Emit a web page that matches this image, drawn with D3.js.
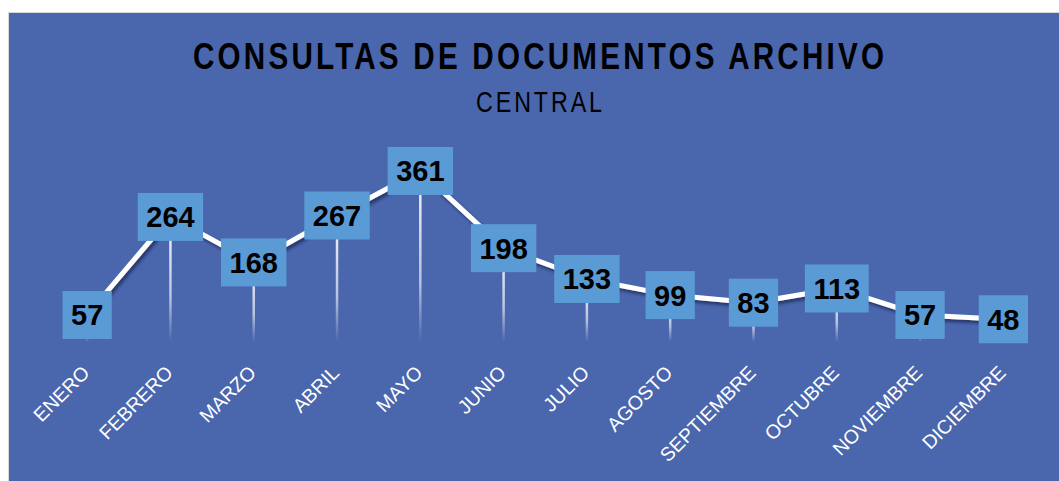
<!DOCTYPE html>
<html>
<head>
<meta charset="utf-8">
<script src="https://cdn.jsdelivr.net/npm/d3@7"></script>
<style>
	body { margin: 0; background: #fff; }
	svg { display: block; }
</style>
</head>
<body>
<div id="chart"></div>
<script>
const months = ["ENERO", "FEBRERO", "MARZO", "ABRIL", "MAYO", "JUNIO",
	"JULIO", "AGOSTO", "SEPTIEMBRE", "OCTUBRE", "NOVIEMBRE", "DICIEMBRE"];
const consultas = [57, 264, 168, 267, 361, 198, 133, 99, 83, 113, 57, 48];
const yDomain = [0, 400];
const title = "CONSULTAS DE DOCUMENTOS ARCHIVO";
const subtitle = "CENTRAL";

const width = 1059,
		height = 481,
		plot = { left: 45.5, right: 1045, top: 152.5, bottom: 342 },
		narrow = 0.8;

const svg = d3.select("#chart")
	.append("svg")
		.attr("width", width)
		.attr("height", height);

const defs = svg.append("defs");

const shadow = defs.append("filter")
	.attr("id", "lineShadow")
	.attr("x", "-10%").attr("y", "-20%")
	.attr("width", "120%").attr("height", "160%");
shadow.append("feDropShadow")
	.attr("dx", 2).attr("dy", 3)
	.attr("stdDeviation", 1.6)
	.attr("flood-color", "#1b2756")
	.attr("flood-opacity", 0.75);

const fade = defs.append("linearGradient")
	.attr("id", "dropFade")
	.attr("x1", 0).attr("y1", 0)
	.attr("x2", 0).attr("y2", 1);
fade.append("stop").attr("offset", "0%").attr("stop-color", "#fff").attr("stop-opacity", 0.95);
fade.append("stop").attr("offset", "65%").attr("stop-color", "#fff").attr("stop-opacity", 0.6);
fade.append("stop").attr("offset", "100%").attr("stop-color", "#fff").attr("stop-opacity", 0);

// Chart area
svg.append("rect")
	.attr("x", 8.5).attr("y", 12.5)
	.attr("width", width).attr("height", height)
	.attr("fill", "#4a66ad")
	.attr("stroke", "#d9d9d9");

// Titles (narrow glyphs, widely spaced)
svg.append("g")
	.attr("transform", `translate(538.5,69) scale(${narrow},1)`)
	.append("text")
		.attr("text-anchor", "middle")
		.attr("font-family", "'Liberation Sans', Arial, sans-serif")
		.attr("font-weight", "bold")
		.attr("font-size", 37)
		.attr("textLength", 691 / narrow)
		.attr("lengthAdjust", "spacing")
		.attr("fill", "#000")
		.text(title);

svg.append("g")
	.attr("transform", `translate(539,112) scale(${narrow},1)`)
	.append("text")
		.attr("text-anchor", "middle")
		.attr("font-family", "'Liberation Sans', Arial, sans-serif")
		.attr("font-size", 29)
		.attr("textLength", 126 / narrow)
		.attr("lengthAdjust", "spacing")
		.attr("fill", "#000")
		.text(subtitle);

// Scales
const x = d3.scalePoint()
	.domain(months)
	.range([plot.left, plot.right])
	.padding(0.5);

const y = d3.scaleLinear()
	.domain(yDomain)
	.range([plot.bottom, plot.top]);

const data = months.map((m, i) => ({ month: m, value: consultas[i] }));

// Drop lines
svg.append("g")
	.selectAll("rect")
		.data(data)
		.enter()
		.append("rect")
			.attr("x", (d) => x(d.month) - 1.25)
			.attr("y", (d) => y(d.value))
			.attr("width", 2.5)
			.attr("height", (d) => y(0) - y(d.value))
			.attr("fill", "url(#dropFade)");

// Line
const line = d3.line()
	.x((d) => x(d.month))
	.y((d) => y(d.value));

svg.append("path")
	.datum(data)
	.attr("d", line)
	.attr("fill", "none")
	.attr("stroke", "#fff")
	.attr("stroke-width", 5)
	.attr("stroke-linejoin", "round")
	.attr("filter", "url(#lineShadow)");

// X axis labels
const xAxis = d3.axisBottom(x).tickSize(0).tickPadding(0);

const axisG = svg.append("g")
	.attr("transform", `translate(0,${plot.bottom})`)
	.call(xAxis);

axisG.select(".domain").remove();

axisG.selectAll("text")
	.attr("font-family", "'Liberation Sans', Arial, sans-serif")
	.attr("font-size", 19.5)
	.attr("fill", "#fff")
	.attr("text-anchor", "end")
	.attr("dy", 0)
	.attr("y", 0)
	.attr("transform", "translate(3,32) rotate(-45)");

// Data labels
const labels = svg.append("g")
	.selectAll("g")
		.data(data)
		.enter()
		.append("g")
			.attr("transform", (d) => `translate(${x(d.month)},${y(d.value)})`);

labels.append("rect")
	.attr("fill", "#5b9bd5");

const labelText = labels.append("text")
	.attr("text-anchor", "middle")
	.attr("dy", "0.36em")
	.attr("font-family", "'Liberation Sans', Arial, sans-serif")
	.attr("font-weight", "bold")
	.attr("font-size", 29)
	.attr("fill", "#000")
	.text((d) => d.value);

labelText.each(function(d) {
	const w = this.getComputedTextLength() + 17;
	d3.select(this.parentNode).select("rect")
		.attr("x", -w / 2)
		.attr("y", -24)
		.attr("width", w)
		.attr("height", 48);
});
</script>
</body>
</html>
